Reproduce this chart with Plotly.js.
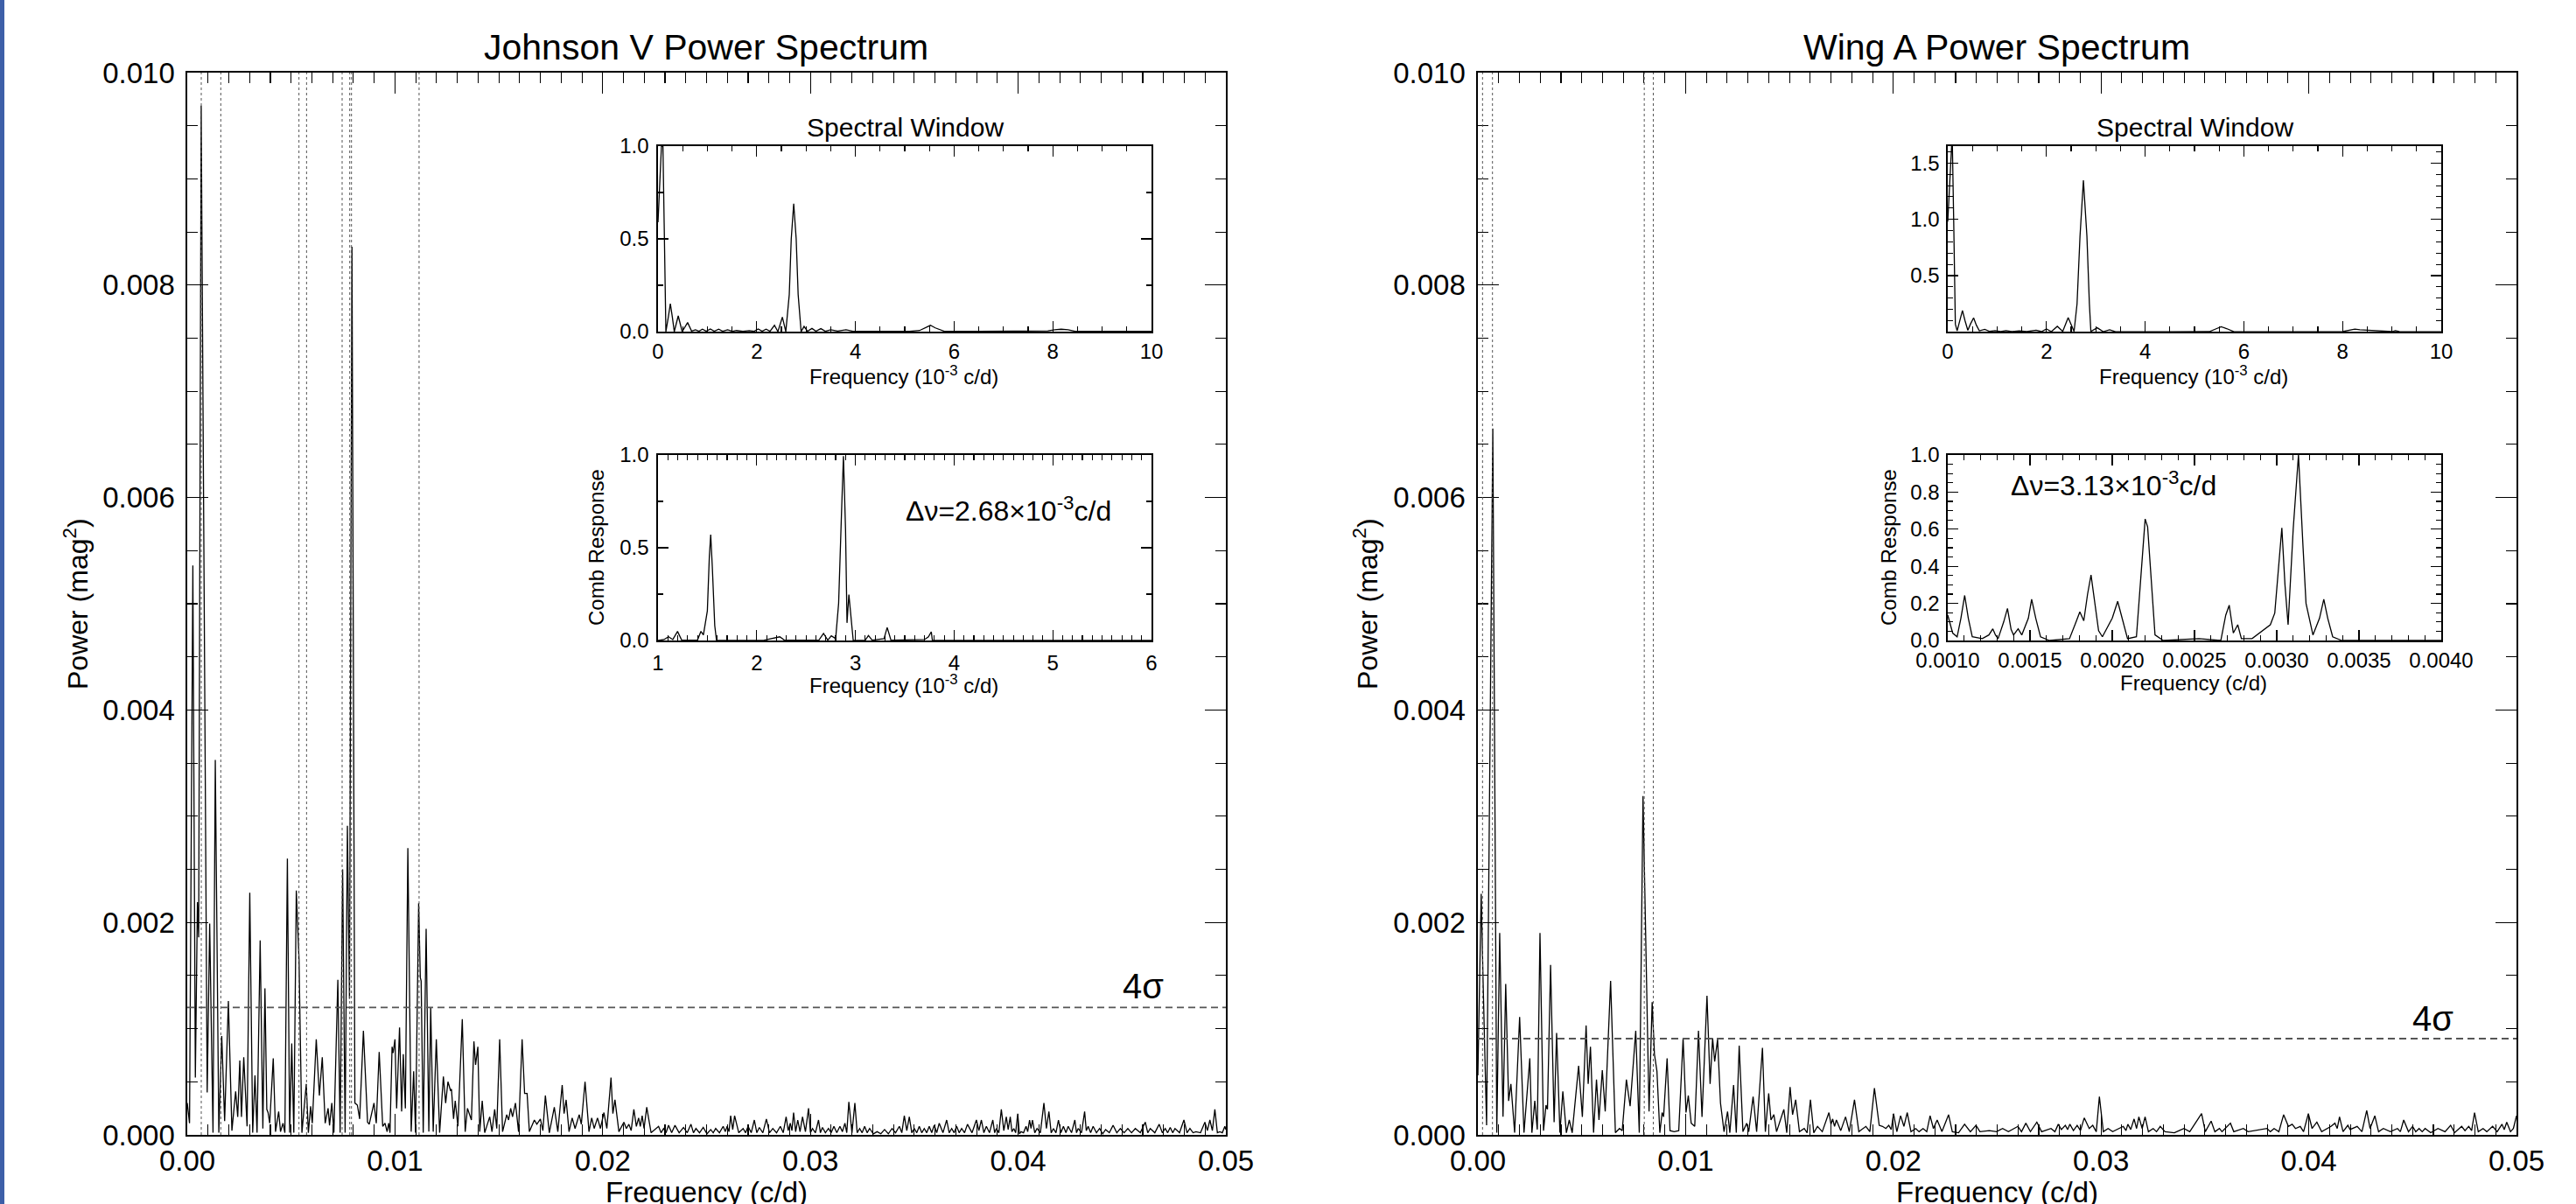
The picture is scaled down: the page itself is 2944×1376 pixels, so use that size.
<!DOCTYPE html>
<html><head><meta charset="utf-8">
<script src="https://cdn.plot.ly/plotly-3.0.1.min.js"></script>
<style>
html,body{margin:0;padding:0;background:#fff;overflow:hidden}
#chart{width:2944px;height:1376px}
#bar{position:absolute;left:0;top:0;width:5px;height:1376px;background:#3d5fa8;z-index:10}
</style>
</head><body><div id="bar"></div><div id="chart"></div>
<script>
// ---------- DATA (frequencies in 1e-3 c/d, power in 1e-3 mag^2) ----------
const jvFreq = [
 0.00,0.11,0.27,0.39,0.49,0.55,0.67,0.96,1.08,1.24,
 1.35,1.52,1.66,1.80,1.98,2.15,2.33,2.43,2.53,2.61,
 2.72,2.88,3.01,3.15,3.26,3.36,3.51,3.64,3.74,3.83,
 3.89,3.97,4.14,4.25,4.40,4.49,4.61,4.70,4.82,4.93,
 5.03,5.13,5.25,5.38,5.52,5.73,5.83,5.94,6.02,6.21,
 6.36,6.50,6.64,6.78,6.85,6.96,7.06,7.25,7.36,7.48,
 7.60,7.71,7.81,7.93,8.07,8.19,8.30,8.48,8.68,8.76,
 8.99,9.10,9.24,9.41,9.52,9.62,9.70,9.76,9.86,9.91,
 10.00,10.08,10.22,10.32,10.40,10.50,10.62,10.78,10.90,10.99,
 11.14,11.22,11.26,11.36,11.50,11.63,11.72,11.84,11.99,12.15,
 12.33,12.44,12.55,12.67,12.72,12.82,12.90,13.03,13.24,13.38,
 13.49,13.68,13.80,13.88,13.99,14.08,14.20,14.32,14.56,14.67,
 14.80,14.90,15.04,15.18,15.38,15.47,15.57,15.66,15.80,15.95,
 16.12,16.24,16.36,16.47,16.71,16.83,17.00,17.12,17.24,17.43,
 17.67,17.84,18.05,18.14,18.24,18.38,18.53,18.67,18.87,18.97,
 19.15,19.34,19.47,19.59,19.75,19.89,20.06,20.20,20.40,20.49,
 20.59,20.78,21.02,21.14,21.26,21.37,21.50,21.62,21.73,21.81,
 21.90,21.99,22.12,22.33,22.69,22.81,22.93,23.05,23.17,23.32,
 23.48,23.68,23.89,24.07,24.25,24.37,24.49,24.66,24.84,25.02,
 25.20,25.32,25.44,25.62,25.80,25.90,25.99,26.08,26.16,26.26,
 26.35,26.55,26.76,26.88,27.00,27.15,27.30,27.42,27.54,27.71,
 27.88,28.03,28.19,28.37,28.55,28.69,28.83,28.93,29.03,29.11,
 29.19,29.29,29.39,29.50,29.62,29.76,29.91,30.00,30.10,30.24,
 30.39,30.48,30.58,30.72,30.87,31.00,31.13,31.27,31.42,31.54,
 31.66,31.75,31.85,32.00,32.14,32.25,32.37,32.49,32.61,32.73,
 32.85,33.03,33.21,33.39,33.57,33.75,33.93,34.10,34.28,34.40,
 34.52,34.64,34.76,34.88,35.00,35.12,35.24,35.36,35.48,35.60,
 35.72,35.84,35.96,36.08,36.20,36.38,36.56,36.68,36.80,36.92,
 37.04,37.16,37.28,37.42,37.56,37.78,37.99,38.11,38.23,38.35,
 38.47,38.62,38.78,38.87,38.95,39.07,39.19,39.31,39.43,39.52,
 39.62,39.70,39.79,39.88,39.98,40.06,40.14,40.26,40.38,40.46,
 40.55,40.62,40.69,40.80,40.91,41.07,41.24,41.36,41.48,41.59,
 41.70,41.82,41.94,42.06,42.18,42.30,42.41,42.57,42.73,42.81,
 42.89,43.05,43.20,43.28,43.37,43.49,43.61,43.77,43.92,44.07,
 44.21,44.39,44.57,44.75,44.92,45.10,45.28,45.46,45.64,45.88,
 46.12,46.24,46.36,46.58,46.79,46.94,47.08,47.20,47.32,47.44,
 47.55,47.77,47.98,48.13,48.27,48.42,48.56,48.78,48.99,49.11,
 49.23,49.35,49.47,49.59,49.71,49.83,49.95,50.00
];
const jvPower = [
 0.30,0.11,5.36,0.54,2.19,1.86,9.69,0.40,1.99,0.02,
 3.53,0.02,0.93,0.13,1.26,0.04,0.41,0.17,0.70,0.17,
 0.73,0.08,2.28,0.02,0.56,0.02,1.83,0.06,1.38,0.24,
 0.21,0.11,0.72,0.03,0.22,0.03,0.11,0.02,2.60,0.02,
 0.86,0.02,2.30,1.65,0.02,0.48,0.02,0.27,0.11,0.90,
 0.37,0.73,0.11,0.25,0.09,0.30,0.02,1.46,0.02,2.50,
 0.02,2.91,1.28,8.36,0.30,0.28,0.15,0.98,0.12,0.10,
 0.30,0.11,0.78,0.08,0.11,0.03,0.11,0.02,0.83,0.77,
 0.90,0.25,1.01,0.22,0.76,0.25,2.70,0.03,0.60,0.02,
 2.18,1.48,1.45,0.02,1.94,0.03,1.20,0.03,0.90,0.02,
 0.55,0.30,0.50,0.42,0.43,0.15,0.32,0.08,1.09,0.03,
 0.25,0.14,0.88,0.66,0.83,0.03,0.32,0.02,0.17,0.03,
 0.24,0.06,0.90,0.03,0.19,0.14,0.25,0.17,0.30,0.03,
 0.90,0.39,0.39,0.03,0.14,0.10,0.15,0.04,0.37,0.02,
 0.26,0.03,0.47,0.20,0.33,0.03,0.16,0.06,0.19,0.10,
 0.50,0.03,0.16,0.06,0.16,0.06,0.21,0.06,0.54,0.20,
 0.33,0.03,0.12,0.06,0.10,0.04,0.24,0.08,0.16,0.08,
 0.18,0.06,0.26,0.02,0.08,0.02,0.06,0.02,0.09,0.02,
 0.09,0.02,0.07,0.02,0.10,0.02,0.06,0.02,0.07,0.01,
 0.05,0.02,0.06,0.02,0.08,0.03,0.08,0.03,0.18,0.05,
 0.18,0.02,0.06,0.02,0.08,0.02,0.14,0.02,0.07,0.02,
 0.15,0.02,0.06,0.02,0.08,0.02,0.17,0.04,0.11,0.04,
 0.21,0.03,0.14,0.03,0.17,0.03,0.25,0.02,0.06,0.02,
 0.14,0.02,0.07,0.02,0.06,0.02,0.08,0.02,0.08,0.03,
 0.11,0.02,0.31,0.02,0.30,0.02,0.06,0.02,0.08,0.02,
 0.06,0.01,0.03,0.01,0.05,0.01,0.06,0.02,0.08,0.02,
 0.18,0.04,0.17,0.02,0.06,0.02,0.08,0.02,0.06,0.02,
 0.08,0.02,0.09,0.02,0.11,0.02,0.14,0.02,0.06,0.02,
 0.08,0.02,0.06,0.02,0.10,0.02,0.14,0.04,0.14,0.02,
 0.08,0.02,0.14,0.02,0.06,0.02,0.24,0.04,0.17,0.05,
 0.17,0.03,0.06,0.02,0.20,0.01,0.03,0.02,0.08,0.03,
 0.14,0.06,0.14,0.02,0.06,0.02,0.30,0.06,0.22,0.02,
 0.06,0.02,0.14,0.02,0.08,0.02,0.08,0.02,0.14,0.02,
 0.06,0.02,0.22,0.04,0.08,0.02,0.08,0.02,0.06,0.01,
 0.05,0.02,0.09,0.02,0.06,0.02,0.06,0.02,0.06,0.02,
 0.12,0.02,0.06,0.02,0.10,0.02,0.06,0.02,0.07,0.02,
 0.06,0.02,0.14,0.02,0.06,0.02,0.03,0.02,0.12,0.04,
 0.14,0.04,0.24,0.02,0.03,0.02,0.08,0.05
];
const waFreq = [
 0.00,0.16,0.25,0.42,0.72,0.91,1.05,1.21,1.34,1.48,
 1.59,1.77,2.01,2.22,2.50,2.60,2.74,2.86,2.99,3.16,
 3.28,3.35,3.50,3.67,3.79,3.95,4.09,4.26,4.40,4.54,
 4.85,5.03,5.21,5.31,5.42,5.57,5.71,5.83,5.99,6.13,
 6.39,6.62,6.82,6.95,7.15,7.33,7.60,7.77,7.95,8.24,
 8.39,8.50,8.62,8.76,8.87,8.94,9.11,9.25,9.45,9.67,
 9.88,10.02,10.13,10.27,10.44,10.62,10.79,11.03,11.18,11.30,
 11.40,11.54,11.68,11.85,12.02,12.13,12.31,12.44,12.58,12.76,
 12.94,13.04,13.25,13.42,13.70,13.84,14.00,14.11,14.25,14.38,
 14.73,14.87,15.03,15.15,15.30,15.48,15.71,15.85,16.01,16.17,
 16.35,16.58,16.90,17.00,17.08,17.17,17.26,17.47,17.70,17.88,
 18.13,18.34,18.68,18.87,19.09,19.32,19.48,19.64,19.78,19.90,
 20.01,20.17,20.35,20.51,20.67,20.85,21.08,21.24,21.43,21.61,
 21.77,21.93,22.11,22.34,22.66,22.84,23.14,23.43,23.71,23.98,
 24.17,24.62,24.97,25.26,25.54,26.00,26.17,26.38,26.60,26.91,
 27.14,27.59,27.78,27.94,28.09,28.28,28.39,28.50,28.67,28.85,
 29.01,29.19,29.43,29.60,29.77,29.92,30.11,30.34,30.56,31.07,
 31.20,31.29,31.43,31.59,31.71,31.82,31.98,32.12,32.28,32.51,
 32.67,32.85,33.08,33.53,33.76,33.99,34.27,34.84,35.02,35.30,
 35.48,35.70,35.82,36.23,36.39,36.85,37.08,37.42,37.99,38.15,
 38.33,38.56,38.79,39.02,39.20,39.36,39.59,39.75,39.98,40.16,
 40.39,40.62,41.07,41.26,41.37,41.48,41.65,41.88,41.99,42.33,
 42.56,42.79,42.95,43.18,43.36,43.59,43.93,44.27,44.41,44.57,
 44.80,45.00,45.15,45.31,45.46,45.60,45.87,46.22,46.56,46.83,
 47.02,47.36,47.52,47.70,47.84,47.98,48.16,48.39,48.57,48.85,
 49.07,49.30,49.41,49.53,49.71,49.85,50.00
];
const waPower = [
 0.56,2.27,1.46,0.09,6.65,0.02,1.90,0.17,1.42,0.32,
 0.48,0.02,1.11,0.02,0.72,0.02,0.32,0.05,1.90,0.04,
 0.28,0.24,1.60,0.12,0.96,0.02,0.41,0.02,0.14,0.02,
 0.65,0.17,1.03,0.48,0.83,0.02,0.52,0.14,0.61,0.22,
 1.45,0.02,0.06,0.04,0.52,0.27,0.98,0.02,3.19,0.22,
 1.25,0.76,0.60,0.02,0.21,0.17,0.72,0.04,0.03,0.04,
 0.91,0.21,0.37,0.11,0.08,0.98,0.17,1.31,0.48,0.91,
 0.69,0.90,0.30,0.03,0.22,0.02,0.47,0.02,0.84,0.03,
 0.11,0.03,0.36,0.03,0.82,0.03,0.39,0.14,0.19,0.03,
 0.24,0.02,0.45,0.19,0.33,0.03,0.06,0.02,0.33,0.02,
 0.08,0.03,0.21,0.10,0.15,0.08,0.14,0.04,0.17,0.03,
 0.33,0.03,0.08,0.03,0.44,0.09,0.08,0.06,0.09,0.05,
 0.20,0.03,0.18,0.08,0.21,0.03,0.06,0.03,0.06,0.03,
 0.18,0.06,0.14,0.03,0.19,0.03,0.02,0.10,0.03,0.09,
 0.03,0.04,0.03,0.06,0.03,0.08,0.03,0.11,0.03,0.12,
 0.03,0.06,0.03,0.10,0.05,0.09,0.05,0.10,0.04,0.09,
 0.04,0.16,0.06,0.09,0.03,0.36,0.03,0.06,0.03,0.08,
 0.04,0.10,0.05,0.15,0.06,0.17,0.06,0.17,0.03,0.06,
 0.03,0.08,0.03,0.02,0.04,0.06,0.03,0.20,0.03,0.13,
 0.03,0.06,0.03,0.11,0.03,0.06,0.03,0.04,0.06,0.03,
 0.06,0.03,0.19,0.08,0.10,0.06,0.08,0.03,0.20,0.06,
 0.12,0.03,0.08,0.11,0.06,0.17,0.03,0.09,0.05,0.08,
 0.03,0.23,0.06,0.18,0.03,0.06,0.03,0.06,0.03,0.14,
 0.03,0.08,0.03,0.06,0.03,0.06,0.02,0.06,0.03,0.09,
 0.02,0.08,0.04,0.08,0.04,0.21,0.03,0.06,0.03,0.08,
 0.03,0.10,0.05,0.12,0.03,0.06,0.18
];
// Spectral windows (frequency in 1e-3 c/d)
const jvWinFreq = [0,0.04,0.07,0.10,0.13,0.16,0.21,0.25,0.29,0.33,0.41,0.49,0.60,0.68,0.76,0.83,0.90,0.98,1.06,1.14,1.23,1.31,1.41,1.51,1.59,1.72,1.85,1.95,2.03,2.11,2.19,2.27,2.36,2.43,2.52,2.59,2.66,2.70,2.75,2.80,2.84,2.90,2.96,3.03,3.12,3.20,3.30,3.39,3.50,3.64,3.81,3.95,4.50,4.96,5.10,5.30,5.42,5.52,5.62,5.80,6.50,7.50,7.90,8.04,8.17,8.31,8.45,9.00,9.15,9.30,10.0];
const jvWinPower = [0.59,0.84,1.0,1.0,0.5,0.0,0.08,0.15,0.08,0.0,0.085,0.0,0.049,0.003,0.01,0.002,0.013,0.002,0.014,0.002,0.013,0.002,0.01,0.002,0.006,0.002,0.005,0.002,0.014,0.002,0.013,0.002,0.034,0.0,0.078,0.0,0.2,0.5,0.69,0.5,0.2,0.0,0.028,0.002,0.017,0.002,0.016,0.002,0.01,0.003,0.01,0.002,0.002,0.003,0.002,0.006,0.02,0.034,0.02,0.002,0.002,0.002,0.004,0.01,0.013,0.01,0.002,0.002,0.003,0.002,0.002];
const waWinFreq = [0,0.045,0.09,0.12,0.154,0.19,0.24,0.298,0.35,0.407,0.46,0.524,0.58,0.64,0.75,0.85,0.96,1.07,1.18,1.30,1.45,1.60,1.79,1.90,2.0,2.10,2.22,2.33,2.44,2.56,2.62,2.68,2.749,2.82,2.87,2.90,3.03,3.15,3.28,3.40,4.5,5.3,5.45,5.54,5.65,5.8,8.0,8.15,8.25,8.35,9.0,9.07,9.15,10.0];
const waWinPower = [0.98,1.476,1.75,1.0,0.07,0.01,0.10,0.19,0.10,0.015,0.07,0.125,0.06,0.01,0.023,0.005,0.012,0.003,0.012,0.003,0.01,0.003,0.016,0.003,0.026,0.003,0.05,0.005,0.128,0.005,0.25,0.85,1.346,0.85,0.25,0.005,0.037,0.003,0.02,0.002,0.002,0.003,0.03,0.047,0.03,0.002,0.003,0.02,0.026,0.02,0.003,0.012,0.003,0.002];
// Comb responses (frequency in 1e-3 c/d)
const jvCombFreq = [1.0,1.06,1.107,1.15,1.198,1.24,1.40,1.435,1.46,1.50,1.52,1.534,1.55,1.575,1.593,2.076,2.234,2.28,2.63,2.677,2.72,2.756,2.80,2.83,2.86,2.879,2.90,2.915,2.934,2.978,3.10,3.132,3.17,3.29,3.322,3.36,3.70,3.74,3.769,3.78,6.0];
const jvCombResp = [0.0,0.005,0.02,0.005,0.049,0.002,0.002,0.049,0.03,0.16,0.45,0.571,0.4,0.08,0.0,0.002,0.02,0.002,0.002,0.038,0.002,0.025,0.01,0.2,0.7,0.994,0.6,0.095,0.247,0.0,0.002,0.027,0.002,0.01,0.07,0.002,0.005,0.02,0.047,0.0,0.0];
const waCombFreq = [1.0,1.03,1.057,1.08,1.103,1.125,1.149,1.21,1.25,1.274,1.29,1.306,1.34,1.363,1.385,1.40,1.428,1.45,1.49,1.51,1.535,1.564,1.618,1.74,1.78,1.803,1.827,1.85,1.871,1.895,1.917,1.94,2.00,2.033,2.065,2.093,2.147,2.18,2.20,2.215,2.24,2.26,2.31,2.527,2.66,2.69,2.711,2.736,2.763,2.785,2.85,2.961,2.988,3.031,3.05,3.069,3.10,3.132,3.16,3.178,3.22,3.26,3.286,3.31,3.34,3.395,4.0];
const waCombResp = [0.137,0.04,0.02,0.12,0.243,0.12,0.02,0.01,0.03,0.063,0.03,0.01,0.1,0.173,0.06,0.03,0.063,0.03,0.12,0.222,0.12,0.02,0.0,0.01,0.1,0.154,0.106,0.25,0.353,0.2,0.053,0.02,0.12,0.211,0.1,0.01,0.02,0.4,0.655,0.613,0.3,0.03,0.0,0.01,0.0,0.137,0.19,0.04,0.085,0.01,0.01,0.085,0.148,0.607,0.3,0.085,0.6,1.0,0.5,0.2,0.03,0.12,0.222,0.12,0.02,0.0,0.0];
// Marked frequencies (dotted lines, 1e-3 c/d) and 4-sigma levels (1e-3 mag^2)
const jvMarks = [0.674,1.615,5.378,5.744,7.456,7.822,7.906,11.16];
const waMarks = [0.225,0.703,8.01,8.445];
const jvSigma4 = 1.20;
const waSigma4 = 0.906;
const deltaNu = ['2.68','3.13'];

// ---------- LAYOUT ----------
const W = 2944, H = 1376;
const FONT = 'Liberation Sans, Arial, Helvetica, sans-serif';
const px = v => v / W, py = v => 1 - v / H;
const milli = a => a.map(v => v * 1e-3);

function mkAxis(o) {
  return {
    domain: o.domain, anchor: o.anchor, range: o.range,
    tickmode: 'linear', tick0: o.tick0, dtick: o.dtick, tickformat: o.fmt,
    ticks: 'inside', ticklen: o.len, tickwidth: 1.3, tickcolor: '#000',
    showline: true, linecolor: '#000', linewidth: 1.6, mirror: 'ticks',
    showgrid: false, zeroline: false, fixedrange: true,
    tickfont: {family: FONT, size: o.fs, color: '#000'},
    ticklabelstandoff: o.standoff,
    minor: {tick0: o.tick0, dtick: o.minor, ticks: 'inside', ticklen: o.len / 2, tickwidth: 1.1, tickcolor: '#000', showgrid: false}
  };
}

const mainY = [py(1297), py(83)];
const swY = [py(379), py(167)];
const combY = [py(732), py(520)];
const mainXL = [px(214), px(1401)], mainXR = [px(1689), px(2876)];
const insXL = [px(752), px(1316)], insXR = [px(2226), px(2790)];

const layout = {
  width: W, height: H, margin: {l: 0, r: 0, t: 0, b: 0},
  paper_bgcolor: '#fff', plot_bgcolor: '#fff', showlegend: false,
  xaxis: mkAxis({domain: mainXL, anchor: 'y', range: [0, 0.05], tick0: 0, dtick: 0.01, fmt: '.2f', minor: 0.001, len: 24, fs: 33, standoff: 0}),
  yaxis: mkAxis({domain: mainY, anchor: 'x', range: [0, 0.01], tick0: 0, dtick: 0.002, fmt: '.3f', minor: 0.0005, len: 24, fs: 33, standoff: 6}),
  xaxis2: mkAxis({domain: mainXR, anchor: 'y2', range: [0, 0.05], tick0: 0, dtick: 0.01, fmt: '.2f', minor: 0.001, len: 24, fs: 33, standoff: 0}),
  yaxis2: mkAxis({domain: mainY, anchor: 'x2', range: [0, 0.01], tick0: 0, dtick: 0.002, fmt: '.3f', minor: 0.0005, len: 24, fs: 33, standoff: 6}),
  xaxis3: mkAxis({domain: insXL, anchor: 'y3', range: [0, 10], tick0: 0, dtick: 2, fmt: 'd', minor: 0.5, len: 12, fs: 24, standoff: 1}),
  yaxis3: mkAxis({domain: swY, anchor: 'x3', range: [0, 1], tick0: 0, dtick: 0.5, fmt: '.1f', minor: 0.25, len: 12, fs: 24, standoff: 4}),
  xaxis4: mkAxis({domain: insXL, anchor: 'y4', range: [1, 6], tick0: 1, dtick: 1, fmt: 'd', minor: 0.1, len: 12, fs: 24, standoff: 4}),
  yaxis4: mkAxis({domain: combY, anchor: 'x4', range: [0, 1], tick0: 0, dtick: 0.5, fmt: '.1f', minor: 0.25, len: 12, fs: 24, standoff: 4}),
  xaxis5: mkAxis({domain: insXR, anchor: 'y5', range: [0, 10], tick0: 0, dtick: 2, fmt: 'd', minor: 0.5, len: 12, fs: 24, standoff: 1}),
  yaxis5: mkAxis({domain: swY, anchor: 'x5', range: [0.003, 1.65], tick0: 0, dtick: 0.5, fmt: '.1f', minor: 0.1, len: 12, fs: 24, standoff: 3}),
  xaxis6: mkAxis({domain: insXR, anchor: 'y6', range: [0.001, 0.004], tick0: 0.001, dtick: 0.0005, fmt: '.4f', minor: 0.0001, len: 12, fs: 24, standoff: 1}),
  yaxis6: mkAxis({domain: combY, anchor: 'x6', range: [0, 1], tick0: 0, dtick: 0.2, fmt: '.1f', minor: 0.05, len: 12, fs: 24, standoff: 3}),
  shapes: [], annotations: []
};

function markLines(marks, xref, yref) {
  marks.forEach(f => layout.shapes.push({type: 'line', xref: xref, yref: yref + ' domain', x0: f * 1e-3, x1: f * 1e-3, y0: 0, y1: 1,
    line: {color: '#555', width: 1, dash: 'dot'}, layer: 'above'}));
}
markLines(jvMarks, 'x', 'y');
markLines(waMarks, 'x2', 'y2');
[[jvSigma4, 'x', 'y'], [waSigma4, 'x2', 'y2']].forEach(([s, xr, yr]) => layout.shapes.push({
  type: 'line', xref: xr + ' domain', yref: yr, x0: 0, x1: 1, y0: s * 1e-3, y1: s * 1e-3,
  line: {color: '#555', width: 1.8, dash: '8px,5px'}, layer: 'above'}));

function ann(text, x, y, size, angle) {
  layout.annotations.push({text: text, x: px(x), y: py(y), xref: 'paper', yref: 'paper', showarrow: false,
    xanchor: 'center', yanchor: 'middle', textangle: angle || 0, font: {family: FONT, size: size, color: '#000'}});
}
// panel titles
ann('Johnson V Power Spectrum', 807, 54, 41);
ann('Wing A Power Spectrum', 2282, 54, 41);
// main axis titles
ann('Frequency (c/d)', 807, 1362, 33);
ann('Frequency (c/d)', 2282, 1362, 33);
ann('Power (mag<sup>2</sup>)', 87, 690, 32, -90);
ann('Power (mag<sup>2</sup>)', 1561, 690, 32, -90);
// insets
ann('Spectral Window', 1034, 145, 30);
ann('Spectral Window', 2508, 145, 30);
ann('Frequency (10<sup>-3</sup> c/d)', 1033, 429, 24);
ann('Frequency (10<sup>-3</sup> c/d)', 2507, 429, 24);
ann('Frequency (10<sup>-3</sup> c/d)', 1033, 782, 24);
ann('Frequency (c/d)', 2507, 781, 24);
ann('Comb Response', 681, 626, 24, -90);
ann('Comb Response', 2158, 626, 24, -90);
ann('\u0394\u03bd=' + deltaNu[0] + '\u00d710<sup>-3</sup>c/d', 1152, 582, 32);
ann('\u0394\u03bd=' + deltaNu[1] + '\u00d710<sup>-3</sup>c/d', 2415, 553, 32);
// 4 sigma labels
ann('4\u03c3', 1306, 1127, 40);
ann('4\u03c3', 2780, 1164, 40);

const line = {color: '#000', width: 1.3};
const traces = [
  {x: milli(jvFreq), y: milli(jvPower), xaxis: 'x', yaxis: 'y', mode: 'lines', line: line, hoverinfo: 'skip'},
  {x: milli(waFreq), y: milli(waPower), xaxis: 'x2', yaxis: 'y2', mode: 'lines', line: line, hoverinfo: 'skip'},
  {x: jvWinFreq, y: jvWinPower, xaxis: 'x3', yaxis: 'y3', mode: 'lines', line: line, hoverinfo: 'skip'},
  {x: jvCombFreq, y: jvCombResp, xaxis: 'x4', yaxis: 'y4', mode: 'lines', line: line, hoverinfo: 'skip'},
  {x: waWinFreq, y: waWinPower, xaxis: 'x5', yaxis: 'y5', mode: 'lines', line: line, hoverinfo: 'skip'},
  {x: milli(waCombFreq), y: waCombResp, xaxis: 'x6', yaxis: 'y6', mode: 'lines', line: line, hoverinfo: 'skip'}
];

Plotly.newPlot('chart', traces, layout, {displayModeBar: false, staticPlot: true});
</script>
</body></html>
